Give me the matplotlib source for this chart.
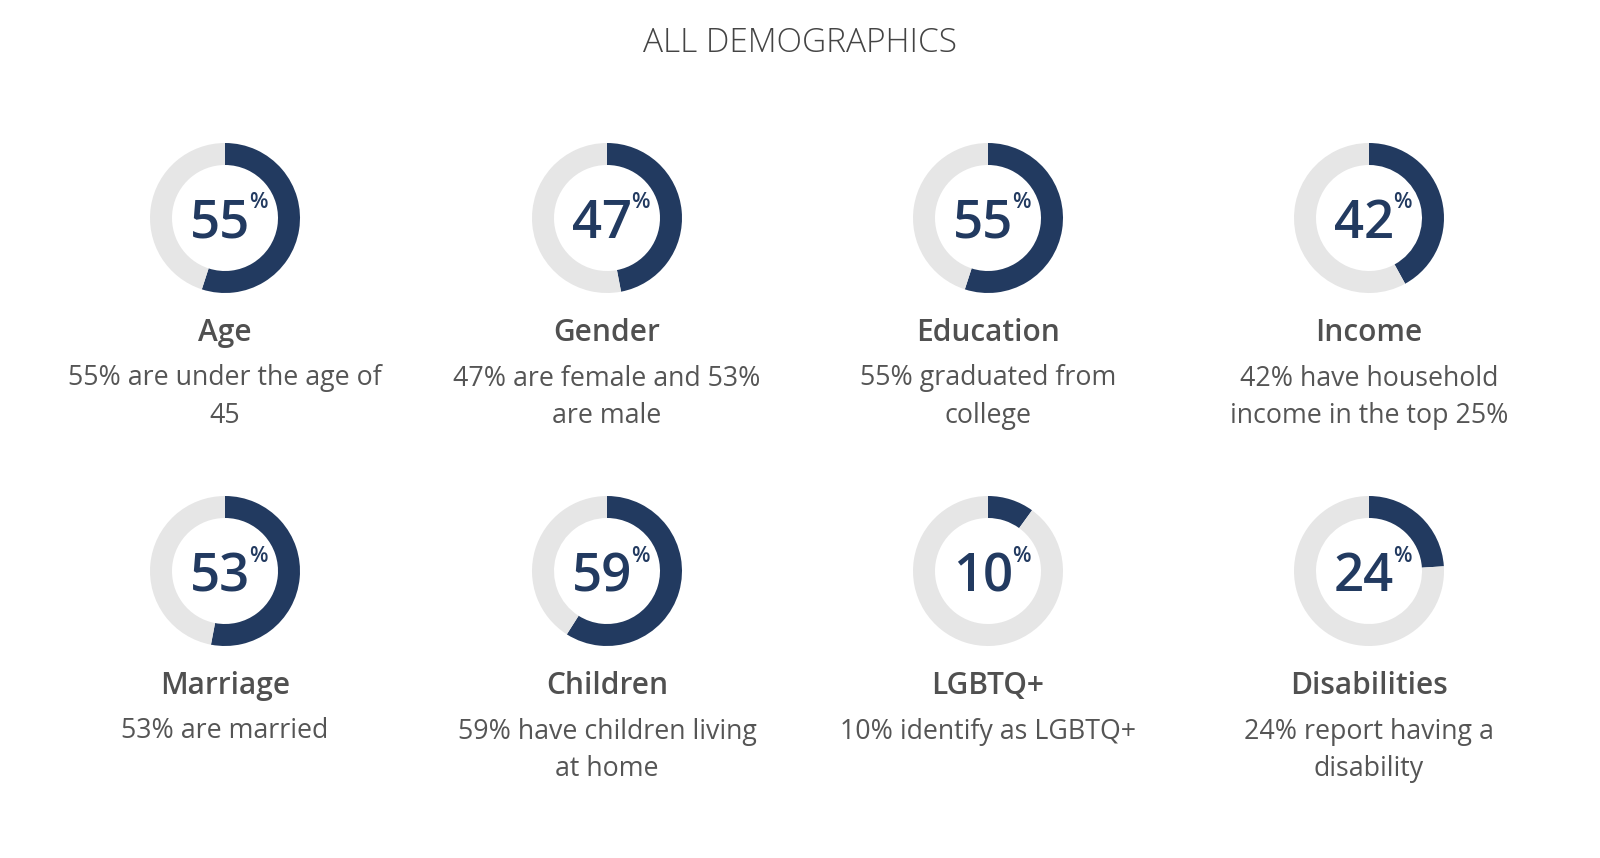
import matplotlib.pyplot as plt

# ===== data =====
title = "ALL DEMOGRAPHICS"
labels = ["Age", "Gender", "Education", "Income",
          "Marriage", "Children", "LGBTQ+", "Disabilities"]
values = [55, 47, 55, 42, 53, 59, 10, 24]
descriptions = [
    "55% are under the age of\n45",
    "47% are female and 53%\nare male",
    "55% graduated from\ncollege",
    "42% have household\nincome in the top 25%",
    "53% are married",
    "59% have children living\nat home",
    "10% identify as LGBTQ+",
    "24% report having a\ndisability",
]

# ===== layout (pixels) =====
W, H = 1600, 858
col_x = [225, 607, 988, 1369]
row_y = [218, 571]
r_out, ring_w = 75, 22
navy = "#223a60"
grey = "#e6e6e6"
txt = "#505050"

plt.rcParams['font.family'] = ['Open Sans', 'DejaVu Sans']

fig = plt.figure(figsize=(16, 8.58), dpi=100)
ax = fig.add_axes([0, 0, 1, 1])
ax.set_xlim(0, W)
ax.set_ylim(0, H)
ax.set_aspect('equal')
ax.axis('off')

def py(y):
    return H - y

ax.text(W / 2, py(43), title, ha='center', va='center',
        fontsize=24, color="#444444", fontweight='light')

for i, (lab, v, d) in enumerate(zip(labels, values, descriptions)):
    cx = col_x[i % 4]
    cy = row_y[i // 4]
    ax.pie([v, 100 - v], colors=[navy, grey], startangle=90, counterclock=False,
           center=(cx, py(cy)), radius=r_out,
           wedgeprops=dict(width=ring_w, linewidth=0))
    ax.text(cx - 5, py(cy), str(v), ha='center', va='center_baseline',
            fontsize=38, fontweight='semibold', color=navy)
    ax.text(cx + 33, py(cy - 15), "%", ha='center', va='center',
            fontsize=15.5, fontweight='semibold', color=navy)
    ax.text(cx, py(cy + 115), lab, ha='center', va='center',
            fontsize=21.5, fontweight='semibold', color=txt)
    for k, line in enumerate(d.split("\n")):
        ax.text(cx, py(cy + 157 + 37.5 * k), line, ha='center', va='center_baseline',
                fontsize=19.3, color="#555555")

ax.set_xlim(0, W)
ax.set_ylim(0, H)
fig.savefig("out.png", dpi=100)
plt.close()
